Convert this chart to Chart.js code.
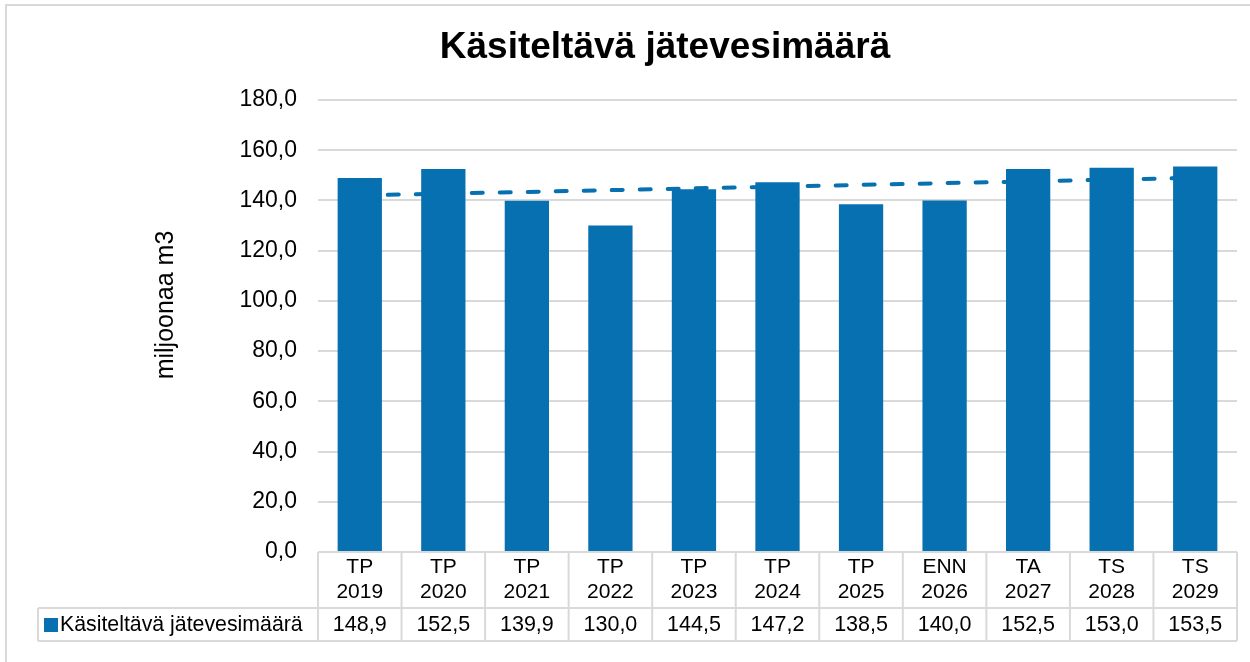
<!DOCTYPE html>
<html>
<head>
<meta charset="utf-8">
<script src="https://cdn.jsdelivr.net/npm/chart.js@4/dist/chart.umd.min.js"></script>
<style>
  html, body { margin: 0; padding: 0; background: #fff; }
  #wrap { width: 1250px; height: 662px; position: relative; }
</style>
</head>
<body>
<div id="wrap"><canvas id="jatevesiChart" width="1250" height="662"></canvas></div>
<script>
// tiedot luettu kuvasta
const lyhenteet = ['TP', 'TP', 'TP', 'TP', 'TP', 'TP', 'TP', 'ENN', 'TA', 'TS', 'TS'];
const vuodet = ['2019', '2020', '2021', '2022', '2023', '2024', '2025', '2026', '2027', '2028', '2029'];
const arvot = [148.9, 152.5, 139.9, 130.0, 144.5, 147.2, 138.5, 140.0, 152.5, 153.0, 153.5];
const trendi = [142.0, null, null, null, null, null, null, null, null, null, 149.0];
const yTicks = [0, 20, 40, 60, 80, 100, 120, 140, 160, 180];

const sarjanNimi = 'Käsiteltävä jätevesimäärä';
const otsikko = 'Käsiteltävä jätevesimäärä';
const yOtsikko = 'miljoonaa m3';
const sininen = '#0670b0';
const ruudukko = '#d9d9d9';
const fontti = '"Liberation Sans", Arial, sans-serif';

const muotoile = v => v.toFixed(1).replace('.', ',');

const taulukkoPlugin = {
    id: 'taulukko',
    beforeDraw(chart) {
        const ctx = chart.ctx;
        ctx.save();
        ctx.strokeStyle = ruudukko;
        ctx.lineWidth = 2;
        ctx.beginPath();
        ctx.moveTo(6, 700);
        ctx.lineTo(6, 5);
        ctx.lineTo(1300, 5);
        ctx.stroke();
        ctx.restore();
    },
    afterDraw(chart) {
        const ctx = chart.ctx;
        const area = chart.chartArea;
        const x = chart.scales.x;
        const lev = area.width / lyhenteet.length;
        const yTop = area.bottom;
        const yMid = area.bottom + 56;
        const yBot = area.bottom + 89;
        const vasen = 38;

        ctx.save();
        // otsikko
        ctx.fillStyle = '#000';
        ctx.font = 'bold 37px ' + fontti;
        ctx.textAlign = 'center';
        ctx.textBaseline = 'middle';
        ctx.fillText(otsikko, 665, 48);

        // y-akselin otsikko
        ctx.save();
        ctx.translate(166, 305);
        ctx.rotate(-Math.PI / 2);
        ctx.font = '25px ' + fontti;
        ctx.fillText(yOtsikko, 0, 0);
        ctx.restore();

        // taulukon viivat
        ctx.strokeStyle = ruudukko;
        ctx.lineWidth = 2;
        ctx.beginPath();
        ctx.moveTo(area.left, yTop); ctx.lineTo(area.right, yTop);
        ctx.moveTo(vasen, yMid); ctx.lineTo(area.right, yMid);
        ctx.moveTo(vasen, yBot); ctx.lineTo(area.right, yBot);
        ctx.moveTo(vasen, yMid); ctx.lineTo(vasen, yBot);
        for (let i = 0; i <= lyhenteet.length; i++) {
            const px = area.left + i * lev;
            ctx.moveTo(px, yTop); ctx.lineTo(px, yBot);
        }
        ctx.stroke();

        // kategoriat ja arvot
        ctx.fillStyle = '#000';
        ctx.textAlign = 'center';
        ctx.textBaseline = 'middle';
        lyhenteet.forEach((l, i) => {
            const cx = x.getPixelForValue(i);
            ctx.font = '21px ' + fontti;
            ctx.fillText(l, cx, yTop + 15);
            ctx.fillText(vuodet[i], cx, yTop + 40);
            ctx.font = '21.5px ' + fontti;
            ctx.fillText(muotoile(arvot[i]), cx, yMid + 17);
        });

        // selite
        ctx.fillStyle = sininen;
        ctx.fillRect(44, yMid + 10, 14, 14);
        ctx.fillStyle = '#000';
        ctx.textAlign = 'left';
        ctx.font = '21.3px ' + fontti;
        ctx.fillText(sarjanNimi, 60, yMid + 17);
        ctx.restore();
    }
};

new Chart(document.getElementById('jatevesiChart'), {
    type: 'bar',
    data: {
        labels: vuodet.map((v, i) => [lyhenteet[i], v]),
        datasets: [{
            type: 'line',
            label: 'Trendi',
            data: trendi,
            spanGaps: true,
            borderColor: sininen,
            borderWidth: 4,
            borderDash: [11, 17],
            borderCapStyle: 'round',
            pointRadius: 0,
            fill: false,
            order: 0
        }, {
            label: sarjanNimi,
            data: arvot,
            backgroundColor: sininen,
            barPercentage: 0.53,
            categoryPercentage: 1,
            order: 1
        }]
    },
    options: {
        responsive: false,
        animation: false,
        layout: { padding: { left: 0, right: 13, top: 100, bottom: 110 } },
        plugins: {
            legend: { display: false },
            tooltip: { enabled: false }
        },
        scales: {
            x: { display: false, offset: true },
            y: {
                min: 0,
                max: 180,
                afterBuildTicks: s => { s.ticks = yTicks.map(v => ({ value: v })); },
                afterFit: s => { s.width = 318; },
                grid: { color: ruudukko, lineWidth: 2, drawTicks: false },
                border: { display: false },
                ticks: {
                    padding: 21,
                    color: '#000',
                    font: { family: fontti, size: 23 },
                    callback: v => muotoile(v)
                }
            }
        }
    },
    plugins: [taulukkoPlugin]
});
</script>
</body>
</html>
